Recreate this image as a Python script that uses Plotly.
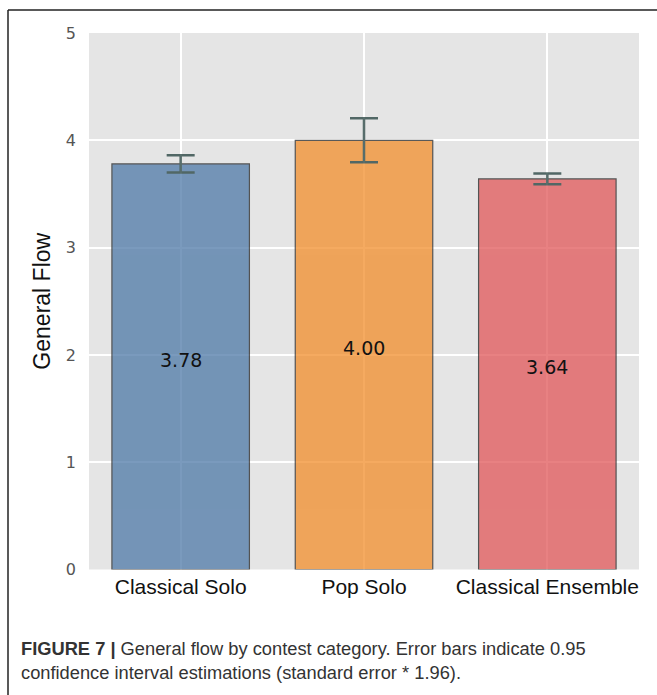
import plotly.graph_objects as go

# Mean general flow per contest category, with 95% CI half-widths
categories = ["Classical Solo", "Pop Solo", "Classical Ensemble"]
mean_flow = [3.78, 4.00, 3.64]
ci95 = [0.08, 0.205, 0.05]
bar_colors = ["#4e79a7", "#f28e2b", "#e15759"]
y_ticks = [0, 1, 2, 3, 4, 5]

W, H = 657, 695
px_x = lambda p: p / W
px_y = lambda p: 1 - p / H

fig = go.Figure()
fig.add_trace(go.Bar(
    x=categories,
    y=mean_flow,
    width=0.75,
    marker=dict(color=bar_colors, line=dict(color="#222222", width=1.2)),
    opacity=0.75,
    error_y=dict(type="data", array=ci95, visible=True,
                 color="#1f3d3a", thickness=2.5, width=14),
    hoverinfo="skip",
))

# value labels at mid-height of each bar
for cat, v in zip(categories, mean_flow):
    fig.add_annotation(x=cat, y=v / 2, text=f"{v:.2f}", showarrow=False,
                       yshift=7, font=dict(family="DejaVu Sans", size=19, color="#111111"))

# caption
fig.add_annotation(
    xref="paper", yref="paper", x=px_x(19), y=px_y(636), xanchor="left", yanchor="top",
    align="left", showarrow=False,
    text="<b>FIGURE 7 |</b> General flow by contest category. Error bars indicate 0.95<br>"
         "confidence interval estimations (standard error * 1.96).",
    font=dict(family="Liberation Sans, Arial", size=18.3, color="#333333"),
)

# frame around the figure panel
fig.add_shape(type="line", xref="paper", yref="paper",
              x0=px_x(8), y0=px_y(700), x1=px_x(8), y1=px_y(10),
              line=dict(color="#222222", width=1.5))
fig.add_shape(type="line", xref="paper", yref="paper",
              x0=px_x(8), y0=px_y(10), x1=px_x(660), y1=px_y(10),
              line=dict(color="#222222", width=1.5))

fig.update_layout(
    width=W, height=H,
    margin=dict(l=0, r=0, t=0, b=0),
    paper_bgcolor="white",
    plot_bgcolor="#e5e5e5",
    showlegend=False,
    xaxis=dict(domain=[px_x(89), px_x(639)], automargin=False,
               showgrid=True, gridcolor="white", gridwidth=1.5,
               tickfont=dict(family="Liberation Sans, Arial", size=21, color="#111111"),
               ticks="", ticklabelstandoff=2, zeroline=False, showline=False),
    yaxis=dict(domain=[px_y(569.5), px_y(33)], automargin=False, range=[0, 5], tickvals=y_ticks,
               showgrid=True, gridcolor="white", gridwidth=1.5, zeroline=False,
               tickfont=dict(family="DejaVu Sans", size=16, color="#555555"),
               ticks="", ticklabelstandoff=12,
               title=dict(text="General Flow", standoff=8,
                          font=dict(family="Liberation Sans, Arial", size=23, color="#111111"))),
)

fig.write_html("out.html")
